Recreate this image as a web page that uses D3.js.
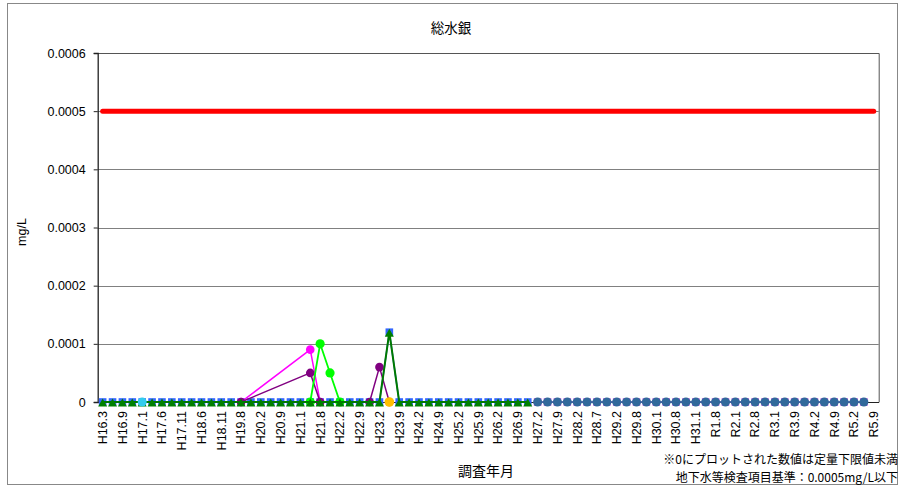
<!DOCTYPE html>
<html><head><meta charset="utf-8">
<script src="https://cdn.jsdelivr.net/npm/d3@7"></script>
<style>
html,body{margin:0;padding:0;background:#fff;}
svg{display:block;}
text{font-family:"Liberation Sans","Noto Sans CJK JP",Arial,sans-serif;fill:#000;}
.jp{font-family:"Noto Sans CJK JP","Liberation Sans",sans-serif;}
</style></head>
<body>
<script>
// ---- data ----
const categories = [
 "H16.3","H16.6","H16.9","H16.11","H17.1","H17.3","H17.6","H17.9","H17.11","H18.2",
 "H18.6","H18.9","H18.11","H19.2","H19.8","H19.11","H20.2","H20.6","H20.9","H20.11",
 "H21.1","H21.5","H21.8","H21.11","H22.2","H22.6","H22.9","H22.11","H23.2","H23.6",
 "H23.9","H23.11","H24.2","H24.6","H24.9","H24.11","H25.2","H25.6","H25.9","H25.11",
 "H26.2","H26.6","H26.9","H26.11","H27.2","H27.6","H27.9","H27.11","H28.2","H28.5",
 "H28.7","H28.11","H29.2","H29.5","H29.8","H29.11","H30.1","H30.5","H30.8","H30.11",
 "H31.1","R1.5","R1.8","R1.11","R2.1","R2.5","R2.8","R2.11","R3.1","R3.5",
 "R3.9","R3.11","R4.2","R4.5","R4.9","R4.11","R5.2","R5.5","R5.9"
];
const yTicks = [0, 0.0001, 0.0002, 0.0003, 0.0004, 0.0005, 0.0006];
const yTickLabels = ["0","0.0001","0.0002","0.0003","0.0004","0.0005","0.0006"];
const chartTitle = "総水銀";
const yTitle = "mg/L";
const xTitle = "調査年月";
const noteLines = ["※0にプロットされた数値は定量下限値未満","地下水等検査項目基準：0.0005mg/L以下"];

const _ = null;
// standard value (0.0005) at every survey
const standardValues = categories.map(() => 0.0005);
// well (blue squares): surveys H16.3 .. H26.11
const wellBlue = [
 0,0,0,0,0,0,0,0,0,0, 0,0,0,0,0,0,0,0,0,0, 0,0,0,0,0,0,0,0,0,0.00012,
 0,0,0,0,0,0,0,0,0,0, 0,0,0,0
];
// well (dark green triangles)
const wellGreen = [
 0,0,0,0,0,0,0,0,0,0, 0,0,0,0,0,0,0,0,0,0, 0,0,0,0,0,0,0,0,0,0.00012,
 0,0,0,0,0,0,0,0,0,0, 0,0,0,0
];
// well (magenta circles)
const wellMagenta = [
 _,_,_,_,_,_,_,_,_,_, _,_,_,_,0,_,_,_,_,_, _,0.00009,0
];
// well (purple circles)
const wellPurple = [
 _,_,_,_,_,_,_,_,_,_, _,_,_,_,0,_,_,_,_,_, _,0.00005,0,_,_,_,_,0,0.00006,0
];
// well (lime circles)
const wellLime = [
 _,_,_,_,_,_,_,_,_,_, _,_,_,_,_,_,_,_,_,_, _,0,0.0001,0.00005,0
];
// single surveys
const wellCyan = [_,_,_,_,0];
const wellOrange = [_,_,_,_,_,_,_,_,_,_, _,_,_,_,_,_,_,_,_,_, _,_,_,_,_,_,_,_,_,0];
// later wells H27.2 .. R5.5
const wellViolet = [
 _,_,_,_,_,_,_,_,_,_, _,_,_,_,_,_,_,_,_,_, _,_,_,_,_,_,_,_,_,_,
 _,_,_,_,_,_,_,_,_,_, _,_,_,_,0,0,0,0,0,0, 0,0,0,0,0,0,0,0,0,0,
 0,0,0,0,0,0,0,0,0,0, 0,0,0,0,0,0,0,0
];
const wellSteel = wellViolet.slice();

// ---- drawing ----
const W = 900, H = 488;
const svg = d3.select("body").append("svg").attr("width", W).attr("height", H);

// outer frame
svg.append("rect").attr("x", 7.5).attr("y", 3.5).attr("width", 890).attr("height", 481)
  .attr("fill", "#fff").attr("stroke", "#888").attr("stroke-width", 1);

const px0 = 97.7, px1 = 878.7, py0 = 53, py1 = 402;
const x = d3.scaleBand().domain(categories).range([px0, px1]).padding(0);
const y = d3.scaleLinear().domain([0, 0.0006]).range([py1, py0]);
const cx = i => x(categories[i]) + x.bandwidth() / 2;

// gridlines
svg.append("g").selectAll("line").data(yTicks.filter(t => t > 0 && t < 0.0006)).join("line")
  .attr("x1", px0).attr("x2", px1).attr("y1", d => Math.round(y(d)) + 0.5).attr("y2", d => Math.round(y(d)) + 0.5)
  .attr("stroke", "#808080").attr("stroke-width", 1);

// plot border (top, right)
svg.append("path").attr("d", `M${px0},${py0 + 0.5}H${px1 + 0.5}V${py1}`)
  .attr("fill", "none").attr("stroke", "#555").attr("stroke-width", 1);

// y axis
const yAxis = d3.axisLeft(y).tickValues(yTicks).tickSize(4).tickPadding(8)
  .tickFormat((d, i) => yTickLabels[i]);
const gy = svg.append("g").attr("transform", `translate(${px0},0)`).call(yAxis);
gy.select(".domain").attr("stroke", "#222").attr("stroke-width", 1.3);
gy.selectAll(".tick line").attr("stroke", "#222");
gy.selectAll(".tick text").attr("font-size", 12.5).attr("fill", "#000")
  .style("font-family", '"Liberation Sans",Arial,sans-serif');

// x axis labels (every other category)
const xAxis = d3.axisBottom(x).tickValues(categories.filter((c, i) => i % 2 === 0)).tickSize(0).tickPadding(0);
const gx = svg.append("g").attr("transform", `translate(0,${py1})`).call(xAxis);
gx.select(".domain").attr("stroke", "#222");
gx.selectAll(".tick text")
  .attr("font-size", 12.5).attr("fill", "#000")
  .attr("transform", "rotate(-90)")
  .attr("text-anchor", "end").attr("dy", "0.35em").attr("x", -9).attr("y", 0)
  .style("font-family", '"Liberation Sans",Arial,sans-serif');

// series helper
function pts(vals) {
  return vals.map((v, i) => v == null ? null : [cx(i), y(v)]).filter(p => p);
}
const line = d3.line();
function drawLine(vals, color, width) {
  const p = pts(vals);
  if (p.length > 1) svg.append("path").attr("d", line(p)).attr("fill", "none")
    .attr("stroke", color).attr("stroke-width", width).attr("stroke-linejoin", "round");
}
function drawMarkers(vals, shape, color, size, dy) {
  const p = pts(vals);
  const g = svg.append("g");
  dy = dy || 0;
  p.forEach(([px, py]) => {
    py += dy;
    if (shape === "circle") {
      g.append("circle").attr("cx", px).attr("cy", py).attr("r", size).attr("fill", color);
    } else if (shape === "square") {
      g.append("rect").attr("x", px - size).attr("y", py - size).attr("width", size * 2).attr("height", size * 2)
        .attr("fill", color);
    } else if (shape === "triangle") {
      g.append("path").attr("d", `M${px},${py - size}L${px + size},${py + size * 0.8}L${px - size},${py + size * 0.8}Z`)
        .attr("fill", color);
    }
  });
}

// later wells (right part)
drawLine(wellViolet, "#CC44DD", 1.5);
drawMarkers(wellViolet, "square", "#C050E0", 3.8);
drawLine(wellSteel, "#31699B", 1.5);
drawMarkers(wellSteel, "circle", "#31699B", 4.5);

// blue squares
drawLine(wellBlue, "#3366FF", 1.5);
drawMarkers(wellBlue, "square", "#3366FF", 3.8);

// magenta / purple / lime
drawLine(wellMagenta, "#FF00FF", 1.5);
drawMarkers(wellMagenta, "circle", "#FF00FF", 4.3);
drawLine(wellPurple, "#800080", 1.5);
drawMarkers(wellPurple, "circle", "#800080", 4.3);
drawLine(wellLime, "#00FF00", 1.8);
drawMarkers(wellLime, "circle", "#00FF00", 4.6);

// dark green triangles
drawLine(wellGreen, "#007A00", 2);
drawMarkers(wellGreen, "triangle", "#008000", 4.5, 1);

// single points
drawMarkers(wellCyan, "circle", "#33CCEE", 4.5);
drawMarkers(wellOrange, "circle", "#FFC000", 4.8);

// standard line
svg.append("path").attr("d", line(pts(standardValues))).attr("fill", "none")
  .attr("stroke", "#FF0000").attr("stroke-width", 5).attr("stroke-linecap", "round");

// titles
svg.append("text").attr("class", "jp").attr("x", 451).attr("y", 33).attr("text-anchor", "middle")
  .attr("font-size", 13.5).text(chartTitle);
svg.append("text").attr("transform", "translate(26,232) rotate(-90)").attr("text-anchor", "middle")
  .attr("font-size", 12.5).text(yTitle);
svg.append("text").attr("class", "jp").attr("x", 486).attr("y", 476).attr("text-anchor", "middle")
  .attr("font-size", 14).text(xTitle);
svg.selectAll(".note").data(noteLines).join("text").attr("class", "jp note")
  .attr("x", 898).attr("y", (d, i) => 464 + i * 17.6).attr("text-anchor", "end")
  .attr("font-size", 12).text(d => d);
</script>
</body></html>
